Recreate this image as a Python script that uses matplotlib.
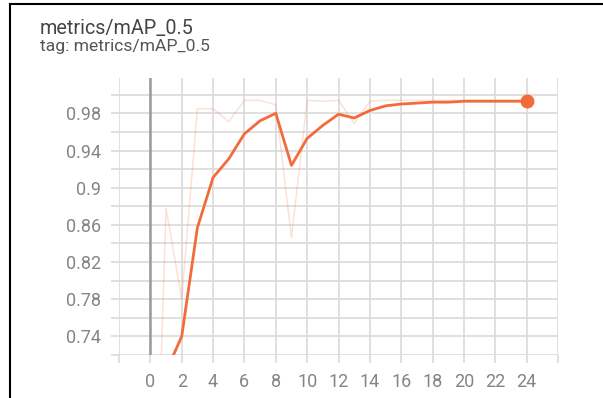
import numpy as np
import matplotlib
matplotlib.use("Agg")
import matplotlib.pyplot as plt
from matplotlib.lines import Line2D

# epochs and values
steps = [0, 1, 2, 3, 4, 5, 6, 7, 8, 9, 10, 11, 12, 13, 14, 15, 16, 17, 18, 19, 20, 21, 22, 23, 24]
raw = [0.35, 0.878, 0.78, 0.985, 0.985, 0.971, 0.994, 0.994, 0.989, 0.846,
       0.994, 0.993, 0.994, 0.969, 0.993, 0.994, 0.994, 0.994, 0.994, 0.994,
       0.994, 0.994, 0.994, 0.994, 0.994]
smooth = [0.35, 0.702, 0.74, 0.857, 0.911, 0.931, 0.958, 0.972, 0.98, 0.924,
          0.953, 0.967, 0.979, 0.975, 0.983, 0.988, 0.990, 0.991, 0.992, 0.992,
          0.993, 0.993, 0.993, 0.993, 0.993]

xticks = np.arange(-2, 27, 2)
yticks = np.round(np.arange(0.72, 1.001, 0.02), 2)
ylabeled = [0.74, 0.78, 0.82, 0.86, 0.9, 0.94, 0.98]

plt.rcParams['font.family'] = ['Roboto', 'DejaVu Sans']

fig = plt.figure(figsize=(6.03, 3.98), dpi=100, facecolor='white')
ax = fig.add_axes([119/603, 1-355/398, (558-119)/603, (355-78)/398])

orange = '#f26b3a'
ax.plot(steps, raw, color=orange, alpha=0.2, lw=1.1, zorder=3)
ax.plot(steps, smooth, color=orange, lw=2.0, zorder=4)
ax.plot(steps[-1], smooth[-1], 'o', color=orange, ms=9, zorder=5)
ax.axvline(0, color='#9a9a9a', lw=1.8, zorder=2)

ax.set_xlim(-2, 26)
ax.set_ylim(0.72, 1.018)
ax.set_xticks(xticks)
ax.set_xticklabels([str(t) if 0 <= t <= 24 else '' for t in xticks])
ax.set_yticks(yticks)
ax.set_yticklabels([('%g' % t) if any(abs(t - v) < 1e-6 for v in ylabeled) else '' for t in yticks])
ax.grid(True, color='#dadada', lw=1.2, zorder=1)
ax.tick_params(length=6, width=1.2, color='#dadada', labelcolor='#858585',
               labelsize=13, pad=7)
for s in ax.spines.values():
    s.set_visible(False)

fig.text(40/603, 1-28/398, 'metrics/mAP_0.5', fontsize=14.2, color='#444444', va='center')
fig.text(40/603, 1-47/398, 'tag: metrics/mAP_0.5', fontsize=12.6, color='#555555', va='center')

# black frame on top and left
fig.add_artist(Line2D([10/603, 1], [1-4/398, 1-4/398], color='black', lw=1.5))
fig.add_artist(Line2D([10/603, 10/603], [0, 1-4/398], color='black', lw=1.5))

fig.savefig('out.png', dpi=100, facecolor='white')
